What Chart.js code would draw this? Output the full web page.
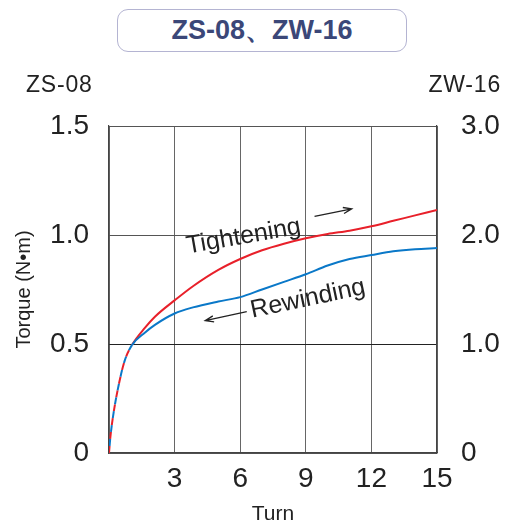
<!DOCTYPE html>
<html>
<head>
<meta charset="utf-8">
<script src="https://cdn.jsdelivr.net/npm/chart.js@4"></script>
<style>
  html, body { margin: 0; padding: 0; background: #fff; }
  #wrap { position: relative; width: 510px; height: 529px; }
  #chart { position: absolute; left: 0; top: 0; }
  .title-box {
    position: absolute; left: 117px; top: 9px; width: 290px; height: 43px;
    border: 1.5px solid #b4b4d2; border-radius: 11px; box-sizing: border-box;
    text-align: center; line-height: 41px;
    font-family: "Liberation Sans", Arial, sans-serif; font-weight: bold;
    font-size: 27px; color: #3b4778;
  }
</style>
</head>
<body>
<div id="wrap">
  <div class="title-box">ZS-08、ZW-16</div>
  <canvas id="chart" width="510" height="529"></canvas>
</div>
<script>
(function() {
    'use strict';

    // Turns (x) and torque in N·m (ZS-08 scale)
    const turns = [0, 0.06, 0.18, 0.46, 0.73, 1.05, 1.65, 2.1, 3, 3.84, 5, 6, 7, 8, 9, 10, 11, 12, 13, 14, 15];
    const tightening = [0, 0.07, 0.165, 0.32, 0.427, 0.495, 0.575, 0.625, 0.70, 0.765, 0.84, 0.89, 0.93, 0.96, 0.985, 1.005, 1.02, 1.04, 1.065, 1.09, 1.115];
    const rewinding = [0, 0.07, 0.165, 0.32, 0.427, 0.495, 0.553, 0.588, 0.64, 0.668, 0.695, 0.715, 0.75, 0.785, 0.82, 0.86, 0.89, 0.908, 0.925, 0.935, 0.94];

    const xTicks = [0, 3, 6, 9, 12, 15];
    const leftTicks = [0, 0.5, 1.0, 1.5];
    const rightTicks = [0, 1.0, 2.0, 3.0];
    const dashedUntil = 1.05;

    const FONT = '"Liberation Sans", Arial, sans-serif';
    const RED = '#e8202a';
    const BLUE = '#0a78c8';

    function toPoints(xs, ys) {
        return xs.map(function(x, i) { return { x: x, y: ys[i] }; });
    }

    function dashed(ctx) {
        return ctx.p1.parsed.x <= dashedUntil;
    }

    // Extra text: axis captions and the curve annotations
    const notes = {
        id: 'notes',
        afterDraw: function(chart) {
            const c = chart.ctx;
            const x = chart.scales.x;
            const y = chart.scales.y;
            c.save();
            c.fillStyle = '#222';
            c.strokeStyle = '#222';
            c.font = '23px ' + FONT;
            c.letterSpacing = '0.8px';
            c.textBaseline = 'middle';
            c.textAlign = 'left';
            c.fillText('ZS-08', 26, 86);
            c.textAlign = 'right';
            c.fillText('ZW-16', 501, 86);
            c.letterSpacing = '0px';

            function label(text, px, py, angle) {
                c.save();
                c.translate(px, py);
                c.rotate(angle * Math.PI / 180);
                c.font = '25px ' + FONT;
                c.textAlign = 'left';
                c.textBaseline = 'alphabetic';
                c.fillText(text, 0, 0);
                c.restore();
            }
            function arrow(x1, y1, x2, y2) {
                const a = Math.atan2(y2 - y1, x2 - x1);
                c.lineWidth = 1.3;
                c.beginPath();
                c.moveTo(x1, y1);
                c.lineTo(x2, y2);
                c.moveTo(x2 - 9 * Math.cos(a - 0.35), y2 - 9 * Math.sin(a - 0.35));
                c.lineTo(x2, y2);
                c.lineTo(x2 - 9 * Math.cos(a + 0.35), y2 - 9 * Math.sin(a + 0.35));
                c.stroke();
            }

            label('Tightening', x.getPixelForValue(3.6), y.getPixelForValue(0.915), -10);
            arrow(x.getPixelForValue(9.4), y.getPixelForValue(1.085), x.getPixelForValue(11.1), y.getPixelForValue(1.12));
            label('Rewinding', x.getPixelForValue(6.55), y.getPixelForValue(0.62), -12);
            arrow(x.getPixelForValue(6.3), y.getPixelForValue(0.648), x.getPixelForValue(4.4), y.getPixelForValue(0.607));
            c.restore();
        }
    };

    new Chart(document.getElementById('chart'), {
        type: 'line',
        data: {
            datasets: [
                {
                    label: 'Rewinding',
                    data: toPoints(turns, rewinding),
                    borderColor: BLUE,
                    borderWidth: 2,
                    pointRadius: 0,
                    cubicInterpolationMode: 'monotone',
                    segment: {
                        borderDash: function(ctx) { return dashed(ctx) ? [7, 7] : undefined; },
                        borderDashOffset: function(ctx) { return dashed(ctx) ? 7 : 0; }
                    }
                },
                {
                    label: 'Tightening',
                    data: toPoints(turns, tightening),
                    borderColor: RED,
                    borderWidth: 2,
                    pointRadius: 0,
                    cubicInterpolationMode: 'monotone',
                    segment: {
                        borderDash: function(ctx) { return dashed(ctx) ? [7, 7] : undefined; }
                    }
                }
            ]
        },
        options: {
            responsive: false,
            animation: false,
            layout: { padding: { top: 126, left: 0, right: 0, bottom: 0 } },
            plugins: { legend: { display: false }, tooltip: { enabled: false } },
            scales: {
                x: {
                    type: 'linear',
                    min: 0, max: 15,
                    afterFit: function(s) { s.height = 76; },
                    afterBuildTicks: function(s) { s.ticks = xTicks.map(function(v) { return { value: v }; }); },
                    ticks: {
                        padding: 9,
                        maxRotation: 0,
                        color: '#222',
                        font: { family: FONT, size: 28 },
                        callback: function(v) { return v === 0 ? '' : String(v); }
                    },
                    grid: { color: '#666', lineWidth: 1, drawTicks: false },
                    border: { color: '#444', width: 1.2 },
                    title: {
                        display: true, text: 'Turn', color: '#222',
                        font: { family: FONT, size: 21 },
                        padding: { top: 0, bottom: 2 }
                    }
                },
                y: {
                    position: 'left',
                    min: 0, max: 1.5,
                    afterFit: function(s) { s.width = 109; },
                    afterBuildTicks: function(s) { s.ticks = leftTicks.map(function(v) { return { value: v }; }); },
                    ticks: {
                        padding: 20,
                        color: '#222',
                        font: { family: FONT, size: 28 },
                        callback: function(v) { return v === 0 ? '0' : v.toFixed(1); }
                    },
                    grid: {
                        color: function(ctx) { return ctx.tick && ctx.tick.value === 0.5 ? '#222' : '#555'; },
                        lineWidth: 1, drawTicks: false
                    },
                    border: { color: '#444', width: 1.2 },
                    title: {
                        display: true, text: 'Torque (N•m)', color: '#222',
                        font: { family: FONT, size: 20 },
                        padding: { top: 12, bottom: 0 }
                    }
                },
                y2: {
                    position: 'right',
                    min: 0, max: 3.0,
                    afterFit: function(s) { s.width = 73; },
                    afterBuildTicks: function(s) { s.ticks = rightTicks.map(function(v) { return { value: v }; }); },
                    ticks: {
                        padding: 24,
                        color: '#222',
                        font: { family: FONT, size: 28 },
                        callback: function(v) { return v === 0 ? '0' : v.toFixed(1); }
                    },
                    grid: { display: false, drawTicks: false },
                    border: { color: '#444', width: 1.2 }
                }
            }
        },
        plugins: [notes]
    });
})();
</script>
</body>
</html>
